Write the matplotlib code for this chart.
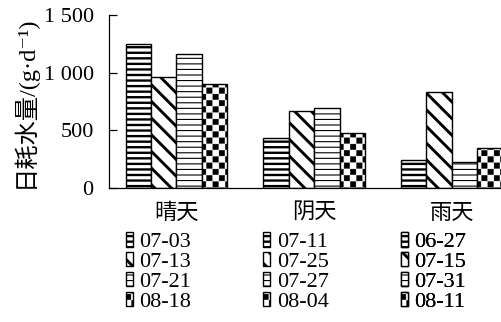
import warnings

import numpy as np
import matplotlib
matplotlib.use("Agg")
import matplotlib.pyplot as plt
import matplotlib.hatch as mhatch
from matplotlib.path import Path
from matplotlib.transforms import blended_transform_factory

warnings.filterwarnings("ignore")

# ---- data -------------------------------------------------------------
weather = ["晴天", "阴天", "雨天"]
dates = [
    ["07-03", "07-13", "07-21", "08-18"],
    ["07-11", "07-25", "07-27", "08-04"],
    ["06-27", "07-15", "07-31", "08-11"],
]
water_use = [
    [1250, 965, 1160, 905],
    [430, 670, 690, 480],
    [245, 830, 225, 345],
]
yticks = [0, 500, 1000, 1500]
ytick_labels = ["0", "500", "1 000", "1 500"]
ylabel = "日耗水量/(g·d⁻¹)"


# ---- checkerboard hatch ('#') ----------------------------------------
class CheckerHatch(mhatch.HatchPatternBase):
    filled = True

    def __init__(self, hatch, density):
        self.cells = 8 * hatch.count("#")
        self.num_vertices = 2 * self.cells ** 2 * 5

    def set_vertices_and_codes(self, vertices, codes):
        n = self.cells
        s = 0.5 / n
        inset = 0.03 / n
        k = 0
        for i in range(n):
            for j in range(n):
                for ox, oy in ((0.0, 0.0), (s, s)):
                    x0 = i / n + ox + inset
                    y0 = j / n + oy + inset
                    x1 = x0 + s - 2 * inset
                    y1 = y0 + s - 2 * inset
                    vertices[k:k + 5] = [(x0, y0), (x1, y0), (x1, y1),
                                         (x0, y1), (x0, y0)]
                    codes[k:k + 5] = [Path.MOVETO, Path.LINETO, Path.LINETO,
                                      Path.LINETO, Path.CLOSEPOLY]
                    k += 5


mhatch._hatch_types.append(CheckerHatch)

# ---- styles -------------------------------------------------------------
hatches = ["---", "\\\\", "---", "#"]
hatch_lw = [1.7, 2.1, 0.8, 0.3]
serif = ["Liberation Serif", "DejaVu Serif", "Noto Sans CJK SC"]
cjk = ["Noto Sans CJK SC", "DejaVu Sans"]

plt.rcParams["font.family"] = serif
plt.rcParams["font.size"] = 16

fig = plt.figure(figsize=(5.02, 3.22), dpi=100)
ax = fig.add_axes([0.2171, 0.4161, 0.7829, 0.5373])

x = np.arange(len(weather))
width = 0.185
values = np.array(water_use)

bars = []
for k in range(4):
    with plt.rc_context({"hatch.linewidth": hatch_lw[k]}):
        bc = ax.bar(x + (k - 1.5) * width, values[:, k], width,
                    facecolor="white", edgecolor="black", linewidth=1.0,
                    hatch=hatches[k], zorder=2)
    for p in bc.patches:
        if hasattr(p, "set_hatch_linewidth"):
            p.set_hatch_linewidth(hatch_lw[k])
    bars.append(bc)

ax.set_xlim(-0.49, 2.365)
ax.set_ylim(0, 1500)
ax.set_yticks(yticks, ytick_labels)
ax.tick_params(axis="y", direction="in", length=6, width=0.9, pad=11,
               labelsize=16)
ax.set_xticks(x, weather)
ax.tick_params(axis="x", length=0, pad=9)
for lbl in ax.get_xticklabels():
    lbl.set_fontfamily(cjk)
    lbl.set_fontsize(16)
    lbl.set_fontweight("light")

for side in ("top", "right"):
    ax.spines[side].set_visible(False)
for side in ("left", "bottom"):
    ax.spines[side].set_linewidth(0.9)

ax.set_ylabel(ylabel, fontsize=17.5, family=serif, labelpad=5)

# one date legend beneath each weather group
trans = blended_transform_factory(ax.transData, fig.transFigure)
for g in range(len(weather)):
    handles = [bars[k].patches[g] for k in range(4)]
    leg = ax.legend(handles, dates[g], loc="upper left",
                    bbox_to_anchor=(x[g] - 2 * width, 0.278),
                    bbox_transform=trans, frameon=False, borderpad=0,
                    borderaxespad=0, handlelength=0.32, handleheight=0.6,
                    handletextpad=0.3, labelspacing=0.0,
                    prop={"family": serif, "size": 16})
    for h, lw in zip(leg.legend_handles, hatch_lw):
        h.set_linewidth(1.0)
        if hasattr(h, "set_hatch_linewidth"):
            h.set_hatch_linewidth(lw)
    ax.add_artist(leg)

fig.savefig("out.png", dpi=100)
